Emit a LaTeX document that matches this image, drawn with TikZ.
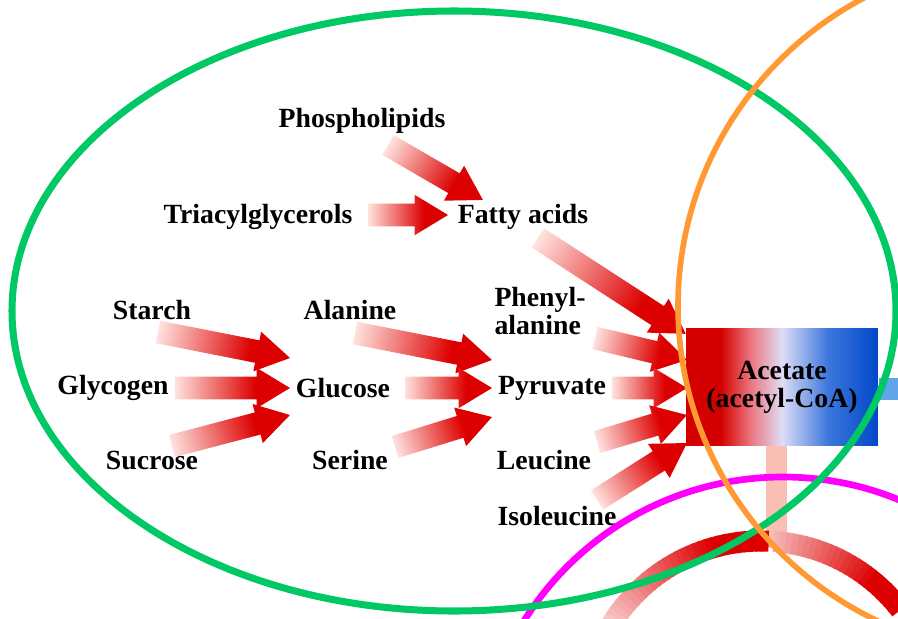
\documentclass[tikz,border=0pt]{standalone}
\usepackage{fontspec}
\setmainfont{Liberation Serif}
\usetikzlibrary{calc}
\usetikzlibrary{positioning}

\definecolor{arrowred}{RGB}{221,0,0}
\definecolor{fadered}{RGB}{255,226,222}
\definecolor{boxred}{RGB}{212,0,0}
\definecolor{boxpink}{RGB}{236,120,130}
\definecolor{boxpale}{RGB}{222,222,246}
\definecolor{boxmid}{RGB}{60,118,220}
\definecolor{boxblue}{RGB}{0,72,200}
\definecolor{stubblue}{RGB}{96,164,234}
\definecolor{stempink}{RGB}{249,190,180}
\definecolor{ringgreen}{RGB}{0,200,100}
\definecolor{ringorange}{RGB}{255,153,51}
\definecolor{ringmagenta}{RGB}{255,0,255}

\pgfdeclarehorizontalshading{fadearrow}{100bp}{color(0bp)=(fadered); color(25bp)=(fadered); color(60bp)=(arrowred); color(100bp)=(arrowred)}
\pgfdeclarehorizontalshading{acetshade}{100bp}{color(0bp)=(boxred); color(34bp)=(boxred); color(42bp)=(boxpink); color(50bp)=(boxpale); color(62bp)=(boxmid); color(75bp)=(boxblue); color(100bp)=(boxblue)}

% broad red arrow that fades out towards its tail
\newcommand\fatarrow[2]{%
  \path (#1) coordinate (fa-tail) (#2) coordinate (fa-tip);
  \pgfpointdiff{\pgfpointanchor{fa-tail}{center}}{\pgfpointanchor{fa-tip}{center}}%
  \pgfgetlastxy{\fadx}{\fady}%
  \pgfmathsetmacro\faang{atan2(\fady,\fadx)}%
  \pgfmathsetmacro\falen{veclen(\fadx,\fady)}%
  \begin{scope}[transform canvas={shift={(fa-tail)},rotate=\faang}]
    \shade[shading=fadearrow]
      (0pt,-6.5pt) -- ({\falen pt-19pt},-6.5pt) -- ({\falen pt-19pt},-11.5pt) -- (\falen pt,0pt)
      -- ({\falen pt-19pt},11.5pt) -- ({\falen pt-19pt},6.5pt) -- (0pt,6.5pt) -- cycle;
  \end{scope}}

\begin{document}
\begin{tikzpicture}[
  x=0.02cm, y=-0.02cm,
  label/.style = {font=\bfseries\fontsize{15.8}{16}\selectfont, inner sep=1pt},
  acetbox/.style = {shade, shading=acetshade, minimum width=3.84cm, minimum height=2.36cm,
                    inner sep=0pt, align=center, font=\bfseries\fontsize{15.8}{16}\selectfont},
  band/.style = {line width=12pt},
  ring/.style = {line width=4pt}
]
  \useasboundingbox (0,0) rectangle (898,618);
  \clip (0,0) rectangle (898,618);

  % compounds
  \node[label] (phospho)  at (362,121) {Phospholipids};
  \node[label] (triacyl)  at (258,217) {Triacylglycerols};
  \node[label] (fatty)    at (523,217) {Fatty acids};
  \node[label] (starch)   at (152,310) {Starch};
  \node[label] (alanine)  at (350,310) {Alanine};
  \node[label, align=left] (phenyl) at (540,311) {Phenyl-\\alanine};
  \node[label] (glycogen) at (113,388) {Glycogen};
  \node[label] (glucose)  at (343,388) {Glucose};
  \node[label] (pyruvate) at (552,388) {Pyruvate};
  \node[label] (sucrose)  at (152,460) {Sucrose};
  \node[label] (serine)   at (350,460) {Serine};
  \node[label] (leucine)  at (544,460) {Leucine};
  \node[label] (isoleu)   at (557,516) {Isoleucine};

  % down stem and cycle band
  \coordinate (cycle-c) at (761,717);
  \fill[stempink] (766,440) rectangle (787,548);
  \foreach \a in {-152,-150,...,-90} {
    \pgfmathsetmacro\mix{min(100,15+85*(\a+152)/45)}
    \draw[band, arrowred!\mix!white]
      ([shift={(\a:176)}]cycle-c) arc[start angle=\a, end angle=\a+2.5, radius=176];
  }
  \foreach \a in {-86,-84,...,-40} {
    \pgfmathsetmacro\mix{min(100,30+70*(\a+86)/34)}
    \draw[band, arrowred!\mix!white]
      ([shift={(\a:176)}]cycle-c) arc[start angle=\a, end angle=\a+2.5, radius=176];
  }
  \begin{scope}[shift={($(cycle-c)+(-38:176)$)}, rotate=52]
    \fill[arrowred] (0,-20) -- (30,0) -- (0,20) -- cycle;
  \end{scope}

  % acetyl-CoA box
  \node[acetbox] (acetate) at (782,387) {Acetate\\(acetyl-CoA)};
  \fill[stubblue] ($(acetate.east)+(1,-9)$) rectangle ++(25,22);

  % arrow ends
  \coordinate (phospho-out) at (388,145);
  \coordinate (fatty-in1)   at (483,200);
  \coordinate (triacyl-out) at (368,215);
  \coordinate (fatty-in2)   at (448,215);
  \coordinate (starch-out)  at (158,332);
  \coordinate (glyc-out)    at (175,388);
  \coordinate (sucr-out)    at (172,446);
  \coordinate (glucose-in1) at (290,358);
  \coordinate (glucose-in2) at (290,388);
  \coordinate (glucose-in3) at (290,415);
  \coordinate (alan-out)    at (355,333);
  \coordinate (gluc-out)    at (405,388);
  \coordinate (ser-out)     at (395,447);
  \coordinate (pyr-in1)     at (492,360);
  \coordinate (pyr-in2)     at (492,388);
  \coordinate (pyr-in3)     at (492,417);
  \coordinate (fatty-out)   at (538,238);
  \coordinate (phen-out)    at (595,338);
  \coordinate (pyr-out)     at (612,388);
  \coordinate (leu-out)     at (597,442);
  \coordinate (iso-out)     at (597,500);
  \coordinate (acet-in1)    at (686,334);
  \coordinate (acet-in2)    at (687,360);
  \coordinate (acet-in3)    at (687,388);
  \coordinate (acet-in4)    at (687,415);
  \coordinate (acet-in5)    at (687,443);

  \fatarrow{phospho-out}{fatty-in1}
  \fatarrow{triacyl-out}{fatty-in2}
  \fatarrow{starch-out}{glucose-in1}
  \fatarrow{glyc-out}{glucose-in2}
  \fatarrow{sucr-out}{glucose-in3}
  \fatarrow{alan-out}{pyr-in1}
  \fatarrow{gluc-out}{pyr-in2}
  \fatarrow{ser-out}{pyr-in3}
  \fatarrow{fatty-out}{acet-in1}
  \fatarrow{phen-out}{acet-in2}
  \fatarrow{pyr-out}{acet-in3}
  \fatarrow{leu-out}{acet-in4}
  \fatarrow{iso-out}{acet-in5}

  % rings
  \draw[ring, ringmagenta, line width=3.8pt] (783,782) circle[radius=305];
  \draw[ring, ringgreen] (454,311) ellipse[x radius=442, y radius=300];
  \draw[ring, ringorange, line width=3.2pt] (1026,306) circle[radius=348];
\end{tikzpicture}
\end{document}
